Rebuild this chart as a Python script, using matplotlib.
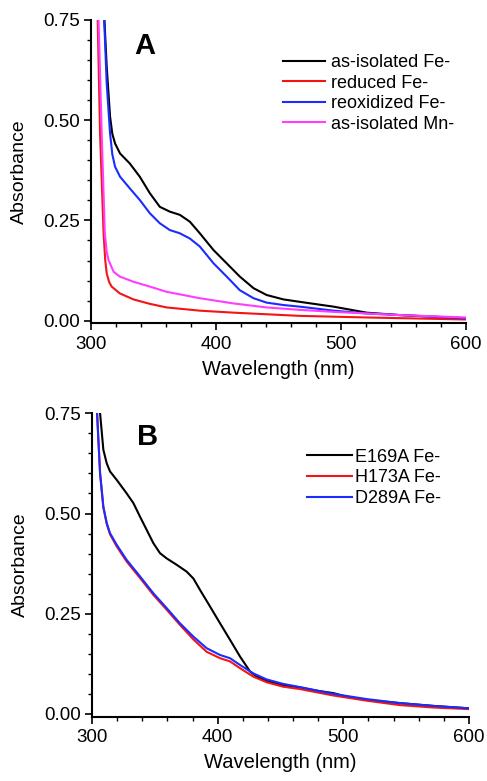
import matplotlib
matplotlib.use("Agg")
import matplotlib.pyplot as plt
from matplotlib.ticker import MultipleLocator

plt.rcParams['font.family'] = ['Liberation Sans', 'DejaVu Sans']

# Panel A - espectros UV-vis
wl_a_black = [309, 310.7, 312.5, 315.2, 317, 319.2, 323.2, 331, 339, 347, 355, 363, 371, 379, 387, 398,
              408.5, 419, 430, 440.5, 454, 467, 494, 520.5, 547, 574, 600]
abs_a_black = [0.85, 0.75, 0.634, 0.509, 0.466, 0.442, 0.417, 0.392, 0.359, 0.318, 0.284, 0.272, 0.264,
               0.247, 0.218, 0.176, 0.143, 0.110, 0.081, 0.064, 0.053, 0.047, 0.035, 0.020, 0.014, 0.010,
               0.006]

wl_a_blue = [309, 310.5, 312.5, 315.2, 317, 319.2, 323.2, 331, 339, 347, 355, 363, 371, 379, 387, 398,
             408.5, 419, 430, 440.5, 454, 467, 494, 520.5, 547, 600]
abs_a_blue = [0.85, 0.75, 0.592, 0.467, 0.415, 0.384, 0.359, 0.330, 0.301, 0.268, 0.243, 0.226, 0.218,
              0.205, 0.185, 0.143, 0.110, 0.076, 0.056, 0.045, 0.039, 0.035, 0.025, 0.018, 0.014, 0.006]

wl_a_red = [304.5, 305.3, 307.2, 310, 311.3, 312.5, 314.5, 316.5, 323, 334, 347, 360.5, 387, 414, 440.5,
            467, 520.5, 600]
abs_a_red = [0.85, 0.75, 0.467, 0.218, 0.152, 0.118, 0.096, 0.085, 0.068, 0.053, 0.042, 0.033, 0.025,
             0.020, 0.016, 0.012, 0.008, 0.003]

wl_a_mag = [305.2, 306, 308.5, 311, 312.5, 314, 318, 323, 334, 347, 360.5, 387, 414, 440.5, 467, 494,
            520.5, 547, 600]
abs_a_mag = [0.85, 0.75, 0.467, 0.218, 0.172, 0.151, 0.122, 0.110, 0.097, 0.085, 0.072, 0.056, 0.043,
             0.033, 0.027, 0.022, 0.018, 0.014, 0.008]

labels_a = ['as-isolated Fe-', 'reduced Fe-', 'reoxidized Fe-', 'as-isolated Mn-']

# Panel B - mutantes
wl_b_black = [305.5, 306.4, 309, 311.7, 314.3, 319.6, 327.6, 332.9, 338.2, 343.5, 348.8, 354.1, 359.4,
              367.4, 375.3, 380.6, 386, 393.9, 401.9, 409.8, 417.8, 425.7, 431, 439, 452, 465.5,
              478.8, 492, 502.7, 518.6, 545, 571.6, 600]
abs_b_black = [0.85, 0.75, 0.659, 0.625, 0.605, 0.584, 0.550, 0.526, 0.492, 0.459, 0.426, 0.401, 0.388,
               0.372, 0.355, 0.338, 0.309, 0.268, 0.226, 0.185, 0.143, 0.106, 0.093, 0.082, 0.072, 0.066,
               0.058, 0.052, 0.043, 0.035, 0.027, 0.020, 0.014]

wl_b_mut = [303, 304, 306.4, 309, 311.7, 314.3, 319.6, 327.6, 338.2, 348.8, 359.4, 370, 380.6, 391.2,
            401.9, 409.8, 417.8, 428.4, 439, 452, 465.5, 492, 518.6, 545, 571.6, 600]
abs_b_red = [0.85, 0.75, 0.600, 0.515, 0.474, 0.448, 0.418, 0.380, 0.339, 0.297, 0.260, 0.222, 0.186,
             0.155, 0.139, 0.131, 0.114, 0.093, 0.079, 0.068, 0.062, 0.046, 0.033, 0.022, 0.016, 0.012]
abs_b_blue = [0.85, 0.75, 0.600, 0.517, 0.476, 0.451, 0.422, 0.384, 0.343, 0.301, 0.264, 0.226, 0.193,
              0.164, 0.147, 0.139, 0.122, 0.101, 0.086, 0.075, 0.067, 0.050, 0.037, 0.027, 0.020, 0.014]

labels_b = ['E169A Fe-', 'H173A Fe-', 'D289A Fe-']

RED = '#f41414'
BLUE = '#1a2cff'
MAG = '#ff3cff'


def estilo(ax):
    ax.set_xlim(300, 600)
    ax.set_ylim(-0.007, 0.75)
    ax.xaxis.set_major_locator(MultipleLocator(100))
    ax.xaxis.set_minor_locator(MultipleLocator(20))
    ax.yaxis.set_major_locator(MultipleLocator(0.25))
    ax.yaxis.set_minor_locator(MultipleLocator(0.05))
    ax.yaxis.set_major_formatter(plt.FormatStrFormatter('%.2f'))
    for s in ['top', 'right']:
        ax.spines[s].set_visible(False)
    for s in ['left', 'bottom']:
        ax.spines[s].set_linewidth(1.5)
    ax.tick_params(which='major', direction='out', length=5, width=1.2, labelsize=13.5)
    ax.tick_params(which='minor', direction='out', length=3, width=1.0)
    ax.tick_params(axis='y', pad=3)
    ax.tick_params(axis='x', pad=4)
    ax.set_xlabel('Wavelength (nm)', fontsize=14.5)
    ax.set_ylabel('Absorbance', fontsize=14)
    ax.xaxis.set_label_coords(0.5, -0.12)
    ax.yaxis.set_label_coords(-0.168, 0.5)


fig = plt.figure(figsize=(4.87, 7.81), dpi=100)
axA = fig.add_axes([0.187, 0.5858, 0.770, 0.3886])
axB = fig.add_axes([0.189, 0.0823, 0.774, 0.3885])

lw = 1.5
axA.plot(wl_a_black, abs_a_black, color='black', lw=lw, label=labels_a[0])
axA.plot(wl_a_red, abs_a_red, color=RED, lw=lw, label=labels_a[1])
axA.plot(wl_a_blue, abs_a_blue, color=BLUE, lw=lw, label=labels_a[2])
axA.plot(wl_a_mag, abs_a_mag, color=MAG, lw=lw, label=labels_a[3])
estilo(axA)
axA.legend(loc='upper left', bbox_to_anchor=(0.511, 0.888), frameon=False, fontsize=13,
           borderpad=0, borderaxespad=0, handlelength=2.34, handletextpad=0.33, labelspacing=0.2)
axA.text(0.115, 0.888, 'A', transform=axA.transAxes, fontsize=21, fontweight='bold', va='baseline')

axB.plot(wl_b_black, abs_b_black, color='black', lw=lw, label=labels_b[0])
axB.plot(wl_b_mut, abs_b_red, color=RED, lw=lw, label=labels_b[1])
axB.plot(wl_b_mut, abs_b_blue, color=BLUE, lw=lw, label=labels_b[2])
estilo(axB)
axB.legend(loc='upper left', bbox_to_anchor=(0.569, 0.883), frameon=False, fontsize=13,
           borderpad=0, borderaxespad=0, handlelength=2.5, handletextpad=0.18, labelspacing=0.2)
axB.text(0.119, 0.895, 'B', transform=axB.transAxes, fontsize=21, fontweight='bold', va='baseline')

fig.savefig('out.png', dpi=100)
